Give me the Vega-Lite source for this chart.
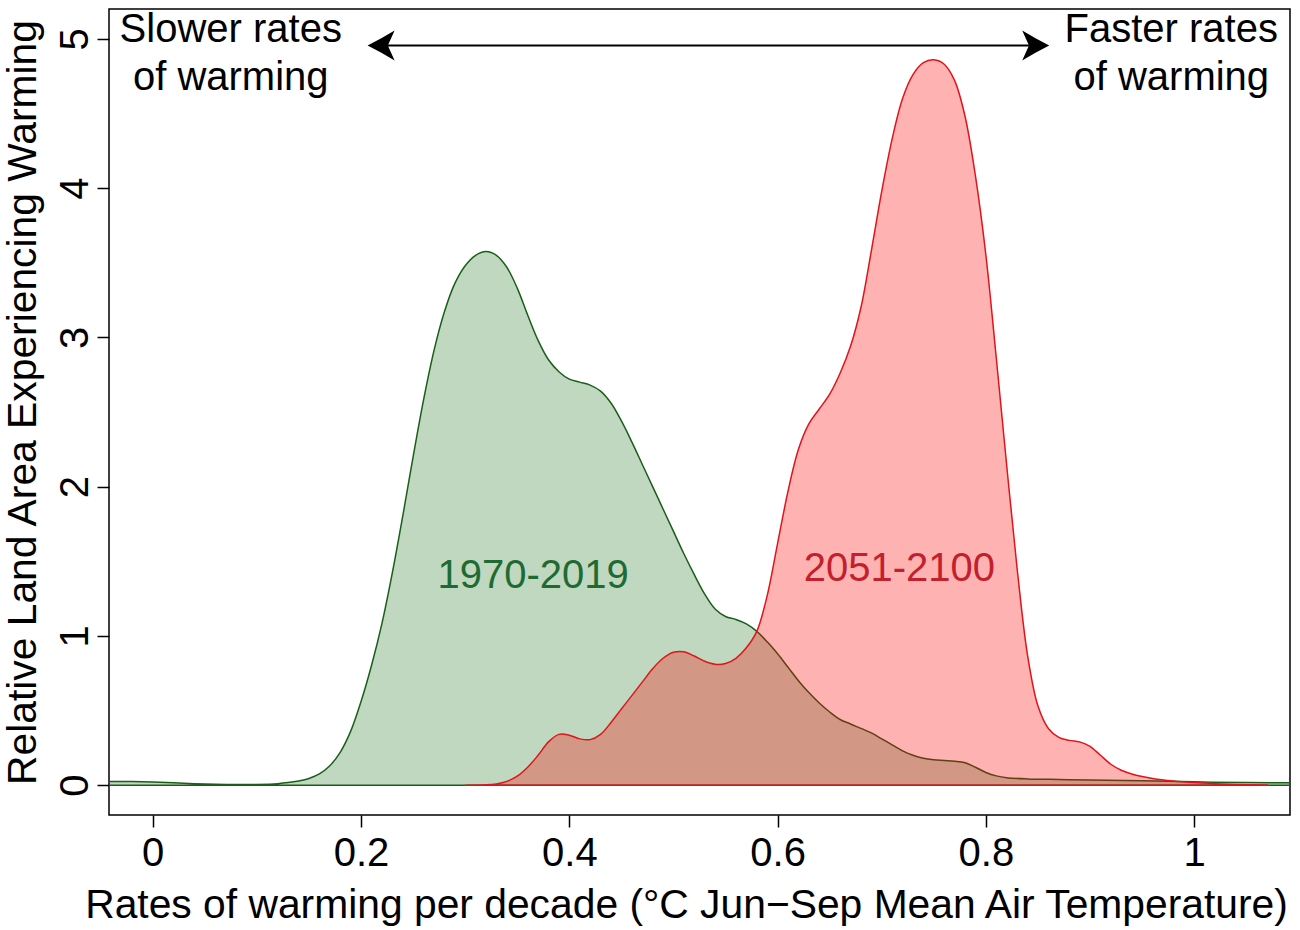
{
  "$schema": "https://vega.github.io/schema/vega-lite/v6.json",
  "autosize": {"type": "none"},
  "width": 1181,
  "height": 806,
  "padding": {"left": 109, "top": 9, "right": 10, "bottom": 115},
  "background": "white",
  "config": {
    "font": "Liberation Sans",
    "view": {"stroke": "black", "strokeWidth": 1.5},
    "axis": {"grid": false, "domain": false, "tickColor": "black", "tickWidth": 1.5, "tickSize": 12,
             "labelFont": "Liberation Sans", "labelFontSize": 40, "labelColor": "black",
             "titleFont": "Liberation Sans", "titleFontSize": 40.8, "titleFontWeight": "normal", "titleColor": "black"}
  },
  "datasets": {
    "curves": [
      {"x": -0.06, "d": 0.026, "period": "1970-2019"}, {"x": -0.04, "d": 0.025, "period": "1970-2019"}, {"x": -0.02, "d": 0.024, "period": "1970-2019"},
      {"x": 0.0, "d": 0.021, "period": "1970-2019"}, {"x": 0.02, "d": 0.016, "period": "1970-2019"}, {"x": 0.04, "d": 0.01, "period": "1970-2019"},
      {"x": 0.06, "d": 0.006, "period": "1970-2019"}, {"x": 0.08, "d": 0.004, "period": "1970-2019"}, {"x": 0.1, "d": 0.005, "period": "1970-2019"},
      {"x": 0.12, "d": 0.01, "period": "1970-2019"}, {"x": 0.13, "d": 0.017, "period": "1970-2019"}, {"x": 0.14, "d": 0.028, "period": "1970-2019"},
      {"x": 0.15, "d": 0.045, "period": "1970-2019"}, {"x": 0.16, "d": 0.075, "period": "1970-2019"}, {"x": 0.17, "d": 0.13, "period": "1970-2019"},
      {"x": 0.18, "d": 0.22, "period": "1970-2019"}, {"x": 0.19, "d": 0.36, "period": "1970-2019"}, {"x": 0.2, "d": 0.56, "period": "1970-2019"},
      {"x": 0.21, "d": 0.8, "period": "1970-2019"}, {"x": 0.22, "d": 1.08, "period": "1970-2019"}, {"x": 0.23, "d": 1.42, "period": "1970-2019"},
      {"x": 0.24, "d": 1.8, "period": "1970-2019"}, {"x": 0.25, "d": 2.2, "period": "1970-2019"}, {"x": 0.26, "d": 2.58, "period": "1970-2019"},
      {"x": 0.27, "d": 2.91, "period": "1970-2019"}, {"x": 0.28, "d": 3.17, "period": "1970-2019"}, {"x": 0.29, "d": 3.36, "period": "1970-2019"},
      {"x": 0.3, "d": 3.48, "period": "1970-2019"}, {"x": 0.31, "d": 3.55, "period": "1970-2019"}, {"x": 0.32, "d": 3.575, "period": "1970-2019"},
      {"x": 0.33, "d": 3.55, "period": "1970-2019"}, {"x": 0.34, "d": 3.47, "period": "1970-2019"}, {"x": 0.35, "d": 3.33, "period": "1970-2019"},
      {"x": 0.36, "d": 3.15, "period": "1970-2019"}, {"x": 0.37, "d": 2.98, "period": "1970-2019"}, {"x": 0.38, "d": 2.85, "period": "1970-2019"},
      {"x": 0.39, "d": 2.77, "period": "1970-2019"}, {"x": 0.4, "d": 2.72, "period": "1970-2019"}, {"x": 0.41, "d": 2.7, "period": "1970-2019"},
      {"x": 0.42, "d": 2.68, "period": "1970-2019"}, {"x": 0.43, "d": 2.64, "period": "1970-2019"}, {"x": 0.44, "d": 2.56, "period": "1970-2019"},
      {"x": 0.45, "d": 2.44, "period": "1970-2019"}, {"x": 0.46, "d": 2.3, "period": "1970-2019"}, {"x": 0.47, "d": 2.15, "period": "1970-2019"},
      {"x": 0.48, "d": 2.0, "period": "1970-2019"}, {"x": 0.49, "d": 1.85, "period": "1970-2019"}, {"x": 0.5, "d": 1.7, "period": "1970-2019"},
      {"x": 0.51, "d": 1.55, "period": "1970-2019"}, {"x": 0.52, "d": 1.41, "period": "1970-2019"}, {"x": 0.53, "d": 1.28, "period": "1970-2019"},
      {"x": 0.54, "d": 1.18, "period": "1970-2019"}, {"x": 0.55, "d": 1.13, "period": "1970-2019"}, {"x": 0.56, "d": 1.11, "period": "1970-2019"},
      {"x": 0.57, "d": 1.08, "period": "1970-2019"}, {"x": 0.58, "d": 1.03, "period": "1970-2019"}, {"x": 0.59, "d": 0.96, "period": "1970-2019"},
      {"x": 0.6, "d": 0.88, "period": "1970-2019"}, {"x": 0.61, "d": 0.79, "period": "1970-2019"}, {"x": 0.62, "d": 0.7, "period": "1970-2019"},
      {"x": 0.63, "d": 0.62, "period": "1970-2019"}, {"x": 0.64, "d": 0.55, "period": "1970-2019"}, {"x": 0.65, "d": 0.49, "period": "1970-2019"},
      {"x": 0.66, "d": 0.44, "period": "1970-2019"}, {"x": 0.67, "d": 0.41, "period": "1970-2019"}, {"x": 0.68, "d": 0.38, "period": "1970-2019"},
      {"x": 0.69, "d": 0.35, "period": "1970-2019"}, {"x": 0.7, "d": 0.31, "period": "1970-2019"}, {"x": 0.71, "d": 0.27, "period": "1970-2019"},
      {"x": 0.72, "d": 0.23, "period": "1970-2019"}, {"x": 0.73, "d": 0.2, "period": "1970-2019"}, {"x": 0.74, "d": 0.18, "period": "1970-2019"},
      {"x": 0.75, "d": 0.17, "period": "1970-2019"}, {"x": 0.76, "d": 0.165, "period": "1970-2019"}, {"x": 0.77, "d": 0.16, "period": "1970-2019"},
      {"x": 0.78, "d": 0.15, "period": "1970-2019"}, {"x": 0.79, "d": 0.12, "period": "1970-2019"}, {"x": 0.8, "d": 0.085, "period": "1970-2019"},
      {"x": 0.81, "d": 0.062, "period": "1970-2019"}, {"x": 0.82, "d": 0.05, "period": "1970-2019"}, {"x": 0.84, "d": 0.042, "period": "1970-2019"},
      {"x": 0.87, "d": 0.038, "period": "1970-2019"}, {"x": 0.9, "d": 0.035, "period": "1970-2019"}, {"x": 0.95, "d": 0.03, "period": "1970-2019"},
      {"x": 1.0, "d": 0.022, "period": "1970-2019"}, {"x": 1.05, "d": 0.017, "period": "1970-2019"}, {"x": 1.11, "d": 0.015, "period": "1970-2019"},

      {"x": 0.3, "d": 0.0, "period": "2051-2100"}, {"x": 0.32, "d": 0.002, "period": "2051-2100"}, {"x": 0.33, "d": 0.008, "period": "2051-2100"},
      {"x": 0.34, "d": 0.025, "period": "2051-2100"}, {"x": 0.35, "d": 0.06, "period": "2051-2100"}, {"x": 0.36, "d": 0.12, "period": "2051-2100"},
      {"x": 0.37, "d": 0.2, "period": "2051-2100"}, {"x": 0.38, "d": 0.29, "period": "2051-2100"}, {"x": 0.39, "d": 0.34, "period": "2051-2100"},
      {"x": 0.4, "d": 0.335, "period": "2051-2100"}, {"x": 0.41, "d": 0.31, "period": "2051-2100"}, {"x": 0.42, "d": 0.305, "period": "2051-2100"},
      {"x": 0.43, "d": 0.34, "period": "2051-2100"}, {"x": 0.44, "d": 0.42, "period": "2051-2100"}, {"x": 0.45, "d": 0.51, "period": "2051-2100"},
      {"x": 0.46, "d": 0.6, "period": "2051-2100"}, {"x": 0.47, "d": 0.69, "period": "2051-2100"}, {"x": 0.48, "d": 0.78, "period": "2051-2100"},
      {"x": 0.49, "d": 0.85, "period": "2051-2100"}, {"x": 0.5, "d": 0.89, "period": "2051-2100"}, {"x": 0.51, "d": 0.893, "period": "2051-2100"},
      {"x": 0.52, "d": 0.865, "period": "2051-2100"}, {"x": 0.53, "d": 0.83, "period": "2051-2100"}, {"x": 0.54, "d": 0.81, "period": "2051-2100"},
      {"x": 0.55, "d": 0.815, "period": "2051-2100"}, {"x": 0.56, "d": 0.85, "period": "2051-2100"}, {"x": 0.57, "d": 0.92, "period": "2051-2100"},
      {"x": 0.58, "d": 1.03, "period": "2051-2100"}, {"x": 0.59, "d": 1.27, "period": "2051-2100"}, {"x": 0.6, "d": 1.62, "period": "2051-2100"},
      {"x": 0.61, "d": 1.97, "period": "2051-2100"}, {"x": 0.62, "d": 2.25, "period": "2051-2100"}, {"x": 0.63, "d": 2.42, "period": "2051-2100"},
      {"x": 0.64, "d": 2.52, "period": "2051-2100"}, {"x": 0.65, "d": 2.62, "period": "2051-2100"}, {"x": 0.66, "d": 2.76, "period": "2051-2100"},
      {"x": 0.67, "d": 2.94, "period": "2051-2100"}, {"x": 0.68, "d": 3.2, "period": "2051-2100"}, {"x": 0.69, "d": 3.58, "period": "2051-2100"},
      {"x": 0.7, "d": 3.98, "period": "2051-2100"}, {"x": 0.71, "d": 4.33, "period": "2051-2100"}, {"x": 0.72, "d": 4.6, "period": "2051-2100"},
      {"x": 0.73, "d": 4.76, "period": "2051-2100"}, {"x": 0.74, "d": 4.84, "period": "2051-2100"}, {"x": 0.75, "d": 4.86, "period": "2051-2100"},
      {"x": 0.76, "d": 4.83, "period": "2051-2100"}, {"x": 0.77, "d": 4.72, "period": "2051-2100"}, {"x": 0.78, "d": 4.48, "period": "2051-2100"},
      {"x": 0.79, "d": 4.08, "period": "2051-2100"}, {"x": 0.8, "d": 3.55, "period": "2051-2100"}, {"x": 0.81, "d": 2.86, "period": "2051-2100"},
      {"x": 0.82, "d": 2.14, "period": "2051-2100"}, {"x": 0.83, "d": 1.45, "period": "2051-2100"}, {"x": 0.84, "d": 0.87, "period": "2051-2100"},
      {"x": 0.85, "d": 0.53, "period": "2051-2100"}, {"x": 0.86, "d": 0.38, "period": "2051-2100"}, {"x": 0.87, "d": 0.32, "period": "2051-2100"},
      {"x": 0.88, "d": 0.3, "period": "2051-2100"}, {"x": 0.89, "d": 0.29, "period": "2051-2100"}, {"x": 0.9, "d": 0.26, "period": "2051-2100"},
      {"x": 0.91, "d": 0.2, "period": "2051-2100"}, {"x": 0.92, "d": 0.14, "period": "2051-2100"}, {"x": 0.93, "d": 0.1, "period": "2051-2100"},
      {"x": 0.94, "d": 0.075, "period": "2051-2100"}, {"x": 0.95, "d": 0.058, "period": "2051-2100"}, {"x": 0.96, "d": 0.045, "period": "2051-2100"},
      {"x": 0.98, "d": 0.028, "period": "2051-2100"}, {"x": 1.0, "d": 0.017, "period": "2051-2100"}, {"x": 1.02, "d": 0.01, "period": "2051-2100"},
      {"x": 1.04, "d": 0.005, "period": "2051-2100"}, {"x": 1.07, "d": 0.001, "period": "2051-2100"}
    ],
    "notes": [
      {"x": 0.0749, "y": 4.98, "label": "Slower rates", "kind": "arrow"},
      {"x": 0.0749, "y": 4.66, "label": "of warming", "kind": "arrow"},
      {"x": 0.978, "y": 4.98, "label": "Faster rates", "kind": "arrow"},
      {"x": 0.978, "y": 4.66, "label": "of warming", "kind": "arrow"},
      {"x": 0.3652, "y": 1.32, "label": "1970-2019", "kind": "green"},
      {"x": 0.7169, "y": 1.367, "label": "2051-2100", "kind": "red"}
    ],
    "arrow": [{"x": 0.212, "x2": 0.855, "y": 4.955}],
    "heads": [
      {"x": 0.2063, "y": 4.955, "side": "left"},
      {"x": 0.8608, "y": 4.955, "side": "right"}
    ]
  },
  "encoding": {
    "x": {"field": "x", "type": "quantitative", "scale": {"domain": [-0.042, 1.092], "nice": false, "zero": false},
          "axis": {"values": [0, 0.2, 0.4, 0.6, 0.8, 1], "format": "~g", "labelBaseline": "alphabetic", "labelPadding": 38,
                   "title": "Rates of warming per decade (°C Jun−Sep Mean Air Temperature)", "titleBaseline": "alphabetic", "titleY": 102, "titleX": 577, "titleAlign": "center"}},
    "y": {"type": "quantitative", "scale": {"domain": [-0.2, 5.2], "nice": false, "zero": false},
          "axis": {"values": [0, 1, 2, 3, 4, 5], "format": "d", "labelAngle": 270, "labelAlign": "center", "labelBaseline": "alphabetic", "labelPadding": 10,
                   "title": "Relative Land Area Experiencing Warming", "titleAngle": 270, "titleBaseline": "alphabetic", "titleX": -74, "titleY": 393, "titleAlign": "center"}}
  },
  "layer": [
    {
      "data": {"name": "curves"},
      "transform": [{"filter": "datum.period === '1970-2019'"}],
      "mark": {"type": "area", "interpolate": "catmull-rom", "clip": true, "fill": "#006400", "fillOpacity": 0.25, "stroke": "#1a5e1a", "strokeWidth": 1.5},
      "encoding": {"y": {"field": "d", "type": "quantitative"}}
    },
    {
      "data": {"name": "curves"},
      "transform": [{"filter": "datum.period === '2051-2100'"}],
      "mark": {"type": "area", "interpolate": "catmull-rom", "clip": true, "fill": "#ff0000", "fillOpacity": 0.3, "stroke": "#e0141a", "strokeWidth": 1.5},
      "encoding": {"y": {"field": "d", "type": "quantitative"}}
    },
    {
      "data": {"name": "arrow"},
      "mark": {"type": "rule", "color": "black", "strokeWidth": 2},
      "encoding": {"x2": {"field": "x2"}, "y": {"field": "y", "type": "quantitative"}}
    },
    {
      "data": {"name": "heads"},
      "mark": {"type": "point", "filled": true, "color": "black", "opacity": 1, "size": 900, "strokeWidth": 0},
      "encoding": {
        "y": {"field": "y", "type": "quantitative"},
        "shape": {"field": "side", "type": "nominal", "legend": null,
                  "scale": {"domain": ["left", "right"], "range": ["M 0 0 Q 0.9 -0.45 1.8 -1 L 1.35 0 L 1.8 1 Q 0.9 0.45 0 0 Z", "M 0 0 Q -0.9 -0.45 -1.8 -1 L -1.35 0 L -1.8 1 Q -0.9 0.45 0 0 Z"]}}
      }
    },
    {
      "data": {"name": "notes"},
      "mark": {"type": "text", "font": "Liberation Sans", "fontSize": 40, "align": "center", "baseline": "alphabetic"},
      "encoding": {
        "y": {"field": "y", "type": "quantitative"},
        "text": {"field": "label"},
        "color": {"field": "kind", "type": "nominal", "legend": null,
                  "scale": {"domain": ["arrow", "green", "red"], "range": ["#000000", "#1d6b33", "#c2202c"]}}
      }
    }
  ]
}
